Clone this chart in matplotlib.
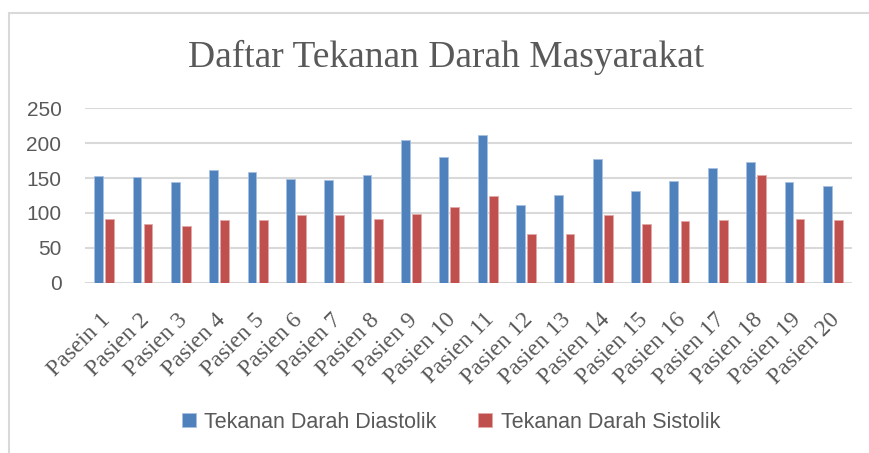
import numpy as np
import matplotlib.pyplot as plt
from matplotlib.patches import Rectangle

# ===================== 数据 =====================
pasien = ["Pasein 1"] + [f"Pasien {i}" for i in range(2, 21)]
diastolik = [153, 152, 144, 161, 158, 148, 147, 155, 204, 180,
             212, 111, 126, 177, 132, 146, 165, 173, 144, 139]
sistolik = [91, 84, 81, 90, 90, 97, 97, 91, 99, 108,
            124, 70, 70, 97, 84, 88, 90, 154, 91, 90]
y_ticks = [0, 50, 100, 150, 200, 250]

BLUE = "#4F81BD"
RED = "#C0504D"
GRAY_TXT = "#595959"
GRID = "#d9d9d9"

# ===================== 绘图 =====================
fig = plt.figure(figsize=(8.69, 4.53), dpi=100)
ax = fig.add_axes([85 / 869, 1 - 282.7 / 453, (852 - 85) / 869, (282.7 - 108.3) / 453])

# 外框
fig.patches.append(Rectangle((8.5 / 869, -0.1), 1.2, 1 - 12.5 / 453 + 0.1,
                             transform=fig.transFigure, fill=False,
                             edgecolor=GRID, linewidth=1.5))

x = np.arange(len(pasien))
w = 0.23
ax.bar(x - 0.145, diastolik, width=w, color=BLUE, edgecolor="#a9c1e0", linewidth=0.6,
       label="Tekanan Darah Diastolik", zorder=3)
ax.bar(x + 0.145, sistolik, width=w, color=RED, edgecolor="#e3a9a8", linewidth=0.6,
       label="Tekanan Darah Sistolik", zorder=3)

ax.set_xlim(-0.5, len(pasien) - 0.5)
ax.set_ylim(0, 250)
ax.set_yticks(y_ticks)
ax.yaxis.grid(True, color=GRID, linewidth=1.5, zorder=0)
for s in ax.spines.values():
    s.set_visible(False)
ax.tick_params(axis="both", length=0)
ax.tick_params(axis="y", pad=17, labelsize=15, labelcolor=GRAY_TXT)
for lab in ax.get_yticklabels():
    lab.set_family("Liberation Sans")

ax.set_xticks(x - 0.1)
ax.set_xticklabels(pasien, rotation=45, ha="right", rotation_mode="anchor",
                   family="Liberation Serif", fontsize=17, color=GRAY_TXT)
ax.tick_params(axis="x", pad=19)

fig.text(446 / 869, 1 - 57 / 453, "Daftar Tekanan Darah Masyarakat",
         ha="center", va="center", family="Liberation Serif", fontsize=27, color=GRAY_TXT)

leg = fig.legend(loc="center", bbox_to_anchor=(451 / 869, 1 - 422 / 453), ncol=2,
                 frameon=False, handlelength=0.65, handleheight=0.65, handletextpad=0.4,
                 columnspacing=1.95, prop={"family": "Liberation Sans", "size": 15.5})
for t in leg.get_texts():
    t.set_color(GRAY_TXT)

plt.savefig("out.png", dpi=100)
